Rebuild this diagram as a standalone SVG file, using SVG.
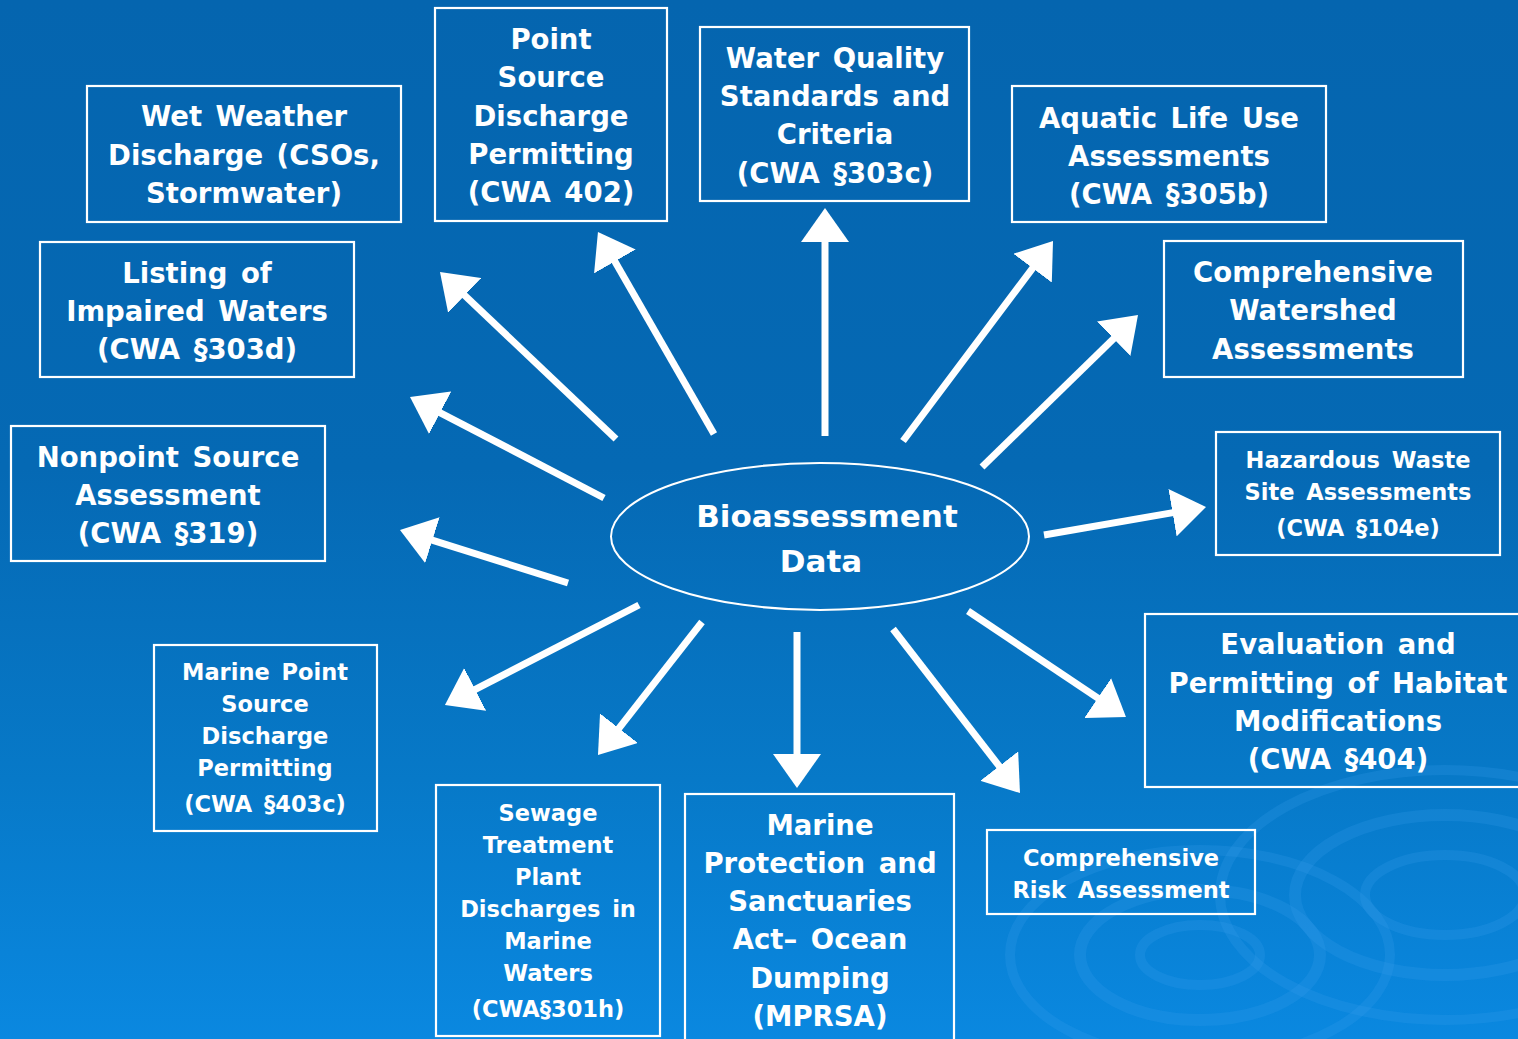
<svg xmlns="http://www.w3.org/2000/svg" width="1518" height="1039" viewBox="0 0 1518 1039">
<defs>
<linearGradient id="bg" x1="0" y1="0" x2="0" y2="1">
<stop offset="0" stop-color="#0565af"/>
<stop offset="0.45" stop-color="#0569b4"/>
<stop offset="0.75" stop-color="#0779c8"/>
<stop offset="1" stop-color="#0a88e0"/>
</linearGradient>
<marker id="ah" markerUnits="userSpaceOnUse" markerWidth="36" markerHeight="48" refX="2" refY="24" orient="auto">
<path d="M0,0 L34,24 L0,48 Z" fill="#fff"/>
</marker>
<style>
.box{fill:none;stroke:#fff;stroke-width:2.2}
.t{font-family:"DejaVu Sans","Liberation Sans",sans-serif;font-weight:bold;fill:#fff;text-anchor:middle;font-size:27.5px;word-spacing:4px}
.s{font-size:22.5px}
.big{font-size:31px}
.arr{stroke:#fff;stroke-width:7;fill:none;marker-end:url(#ah)}
.rip{fill:none;stroke:#3aa0ee;stroke-opacity:0.22}
</style>
</defs>
<rect width="1518" height="1039" fill="url(#bg)"/>
<g id="ripples">
<ellipse class="rip" cx="1445" cy="895" rx="80" ry="40" stroke-width="10"/>
<ellipse class="rip" cx="1445" cy="895" rx="150" ry="80" stroke-width="12"/>
<ellipse class="rip" cx="1445" cy="895" rx="225" ry="125" stroke-width="10"/>
<ellipse class="rip" cx="1200" cy="955" rx="60" ry="30" stroke-width="10"/>
<ellipse class="rip" cx="1200" cy="955" rx="120" ry="65" stroke-width="12"/>
<ellipse class="rip" cx="1200" cy="955" rx="190" ry="105" stroke-width="10"/>
</g>
<g id="connectors">
<line class="arr" x1="616" y1="439" x2="463.2" y2="294"/>
<line class="arr" x1="714" y1="434" x2="613.9" y2="259.7"/>
<line class="arr" x1="825" y1="436" x2="825" y2="240"/>
<line class="arr" x1="903" y1="441" x2="1033.8" y2="266.6"/>
<line class="arr" x1="982" y1="467" x2="1115.1" y2="337.3"/>
<line class="arr" x1="1044" y1="535" x2="1174.5" y2="512.4"/>
<line class="arr" x1="604" y1="498" x2="438.4" y2="411.8"/>
<line class="arr" x1="568" y1="583" x2="430.5" y2="539.6"/>
<line class="arr" x1="639" y1="605" x2="473.4" y2="690.3"/>
<line class="arr" x1="702" y1="622" x2="617.7" y2="729.8"/>
<line class="arr" x1="797" y1="632" x2="797" y2="756"/>
<line class="arr" x1="893" y1="629" x2="1000.4" y2="767.7"/>
<line class="arr" x1="968" y1="611" x2="1099.4" y2="699.2"/>
</g>
<g id="center">
<ellipse cx="820" cy="536.5" rx="209" ry="73.5" fill="none" stroke="#fff" stroke-width="2"/>
<text class="t big" x="827" y="527">Bioassessment</text>
<text class="t big" x="821" y="572">Data</text>
</g>
<g id="wet-weather">
<rect class="box" x="87" y="86" width="314" height="136"/>
<text class="t" x="244" y="126">Wet Weather</text>
<text class="t" x="244" y="165">Discharge (CSOs,</text>
<text class="t" x="244" y="203">Stormwater)</text>
</g>
<g id="point-source">
<rect class="box" x="435" y="8" width="232" height="213"/>
<text class="t" x="551" y="49">Point</text>
<text class="t" x="551" y="87">Source</text>
<text class="t" x="551" y="126">Discharge</text>
<text class="t" x="551" y="164">Permitting</text>
<text class="t" x="551" y="202">(CWA 402)</text>
</g>
<g id="water-quality">
<rect class="box" x="700" y="27" width="269" height="174"/>
<text class="t" x="835" y="68">Water Quality</text>
<text class="t" x="835" y="106">Standards and</text>
<text class="t" x="835" y="144">Criteria</text>
<text class="t" x="835" y="183">(CWA §303c)</text>
</g>
<g id="aquatic-life">
<rect class="box" x="1012" y="86" width="314" height="136"/>
<text class="t" x="1169" y="128">Aquatic Life Use</text>
<text class="t" x="1169" y="166">Assessments</text>
<text class="t" x="1169" y="204">(CWA §305b)</text>
</g>
<g id="listing-impaired">
<rect class="box" x="40" y="242" width="314" height="135"/>
<text class="t" x="197" y="283">Listing of</text>
<text class="t" x="197" y="321">Impaired Waters</text>
<text class="t" x="197" y="359">(CWA §303d)</text>
</g>
<g id="comprehensive-watershed">
<rect class="box" x="1164" y="241" width="299" height="136"/>
<text class="t" x="1313" y="282">Comprehensive</text>
<text class="t" x="1313" y="320">Watershed</text>
<text class="t" x="1313" y="359">Assessments</text>
</g>
<g id="nonpoint-source">
<rect class="box" x="11" y="426" width="314" height="135"/>
<text class="t" x="168" y="467">Nonpoint Source</text>
<text class="t" x="168" y="505">Assessment</text>
<text class="t" x="168" y="543">(CWA §319)</text>
</g>
<g id="hazardous-waste">
<rect class="box" x="1216" y="432" width="284" height="123"/>
<text class="t s" x="1358" y="468">Hazardous Waste</text>
<text class="t s" x="1358" y="500">Site Assessments</text>
<text class="t s" x="1358" y="536">(CWA §104e)</text>
</g>
<g id="marine-point-source">
<rect class="box" x="154" y="645" width="223" height="186"/>
<text class="t s" x="265" y="680">Marine Point</text>
<text class="t s" x="265" y="712">Source</text>
<text class="t s" x="265" y="744">Discharge</text>
<text class="t s" x="265" y="776">Permitting</text>
<text class="t s" x="265" y="812">(CWA §403c)</text>
</g>
<g id="habitat-modifications">
<rect class="box" x="1145" y="614" width="380" height="173"/>
<text class="t" x="1338" y="654">Evaluation and</text>
<text class="t" x="1338" y="693">Permitting of Habitat</text>
<text class="t" x="1338" y="731">Modifications</text>
<text class="t" x="1338" y="769">(CWA §404)</text>
</g>
<g id="sewage-treatment">
<rect class="box" x="436" y="785" width="224" height="251"/>
<text class="t s" x="548" y="821">Sewage</text>
<text class="t s" x="548" y="853">Treatment</text>
<text class="t s" x="548" y="885">Plant</text>
<text class="t s" x="548" y="917">Discharges in</text>
<text class="t s" x="548" y="949">Marine</text>
<text class="t s" x="548" y="981">Waters</text>
<text class="t s" x="548" y="1017">(CWA§301h)</text>
</g>
<g id="marine-protection">
<rect class="box" x="685" y="794" width="269" height="260"/>
<text class="t" x="820" y="835">Marine</text>
<text class="t" x="820" y="873">Protection and</text>
<text class="t" x="820" y="911">Sanctuaries</text>
<text class="t" x="820" y="949">Act– Ocean</text>
<text class="t" x="820" y="988">Dumping</text>
<text class="t" x="820" y="1026">(MPRSA)</text>
</g>
<g id="comprehensive-risk">
<rect class="box" x="987" y="830" width="268" height="84"/>
<text class="t s" x="1121" y="866">Comprehensive</text>
<text class="t s" x="1121" y="898">Risk Assessment</text>
</g>
</svg>
